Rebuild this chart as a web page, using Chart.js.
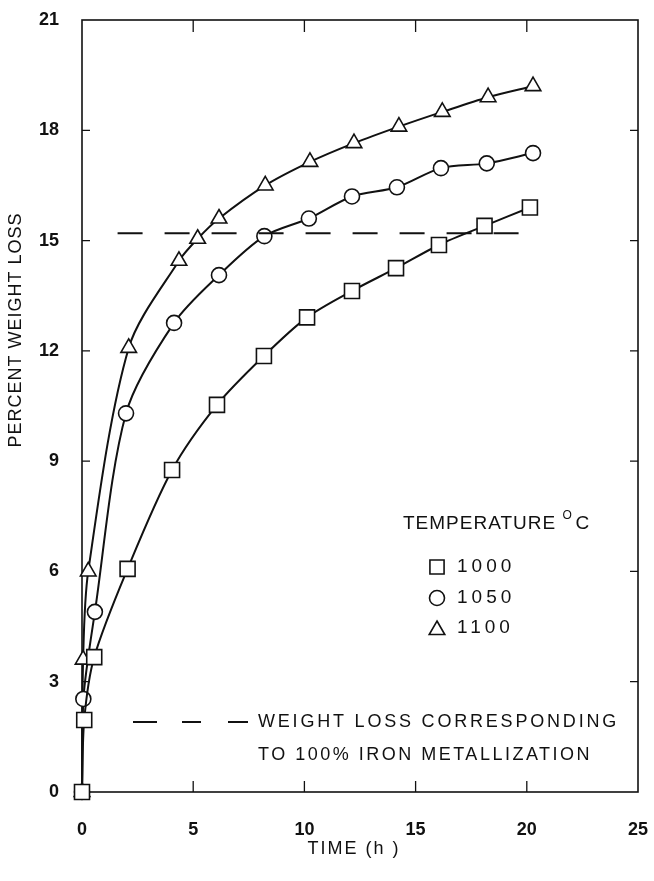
<!DOCTYPE html>
<html>
<head>
<meta charset="utf-8">
<script src="https://cdn.jsdelivr.net/npm/chart.js@4.4.1/dist/chart.umd.min.js"></script>
<style>
  html, body { margin: 0; padding: 0; background: #fff; }
  canvas { display: block; }
</style>
</head>
<body>
<canvas id="chart" width="654" height="881"></canvas>
<script>
// axis ranges / ticks
const xTicks = [0, 5, 10, 15, 20, 25];
const yTicks = [0, 3, 6, 9, 12, 15, 18, 21];

// 1000 C (squares)
const time1000 = [0, 0.1, 0.55, 2.05, 4.05, 6.07, 8.18, 10.12, 12.14, 14.12, 16.05, 18.1, 20.14];
const loss1000 = [0, 1.96, 3.67, 6.07, 8.76, 10.53, 11.86, 12.91, 13.63, 14.25, 14.88, 15.4, 15.9];

// 1050 C (circles)
const time1050 = [0, 0.06, 0.58, 1.98, 4.14, 6.16, 8.2, 10.2, 12.14, 14.16, 16.14, 18.2, 20.28];
const loss1050 = [0, 2.53, 4.9, 10.3, 12.76, 14.06, 15.12, 15.6, 16.2, 16.45, 16.97, 17.1, 17.38];

// 1100 C (triangles)
const time1100 = [0, 0.05, 0.28, 2.1, 4.36, 5.2, 6.16, 8.24, 10.25, 12.23, 14.25, 16.2, 18.26, 20.28];
const loss1100 = [0, 3.6, 6.0, 12.08, 14.45, 15.05, 15.6, 16.5, 17.14, 17.65, 18.1, 18.5, 18.9, 19.2];

// weight loss for 100% iron metallization
const refTime = [1.6, 20.1];
const refLoss = [15.2, 15.2];

const legendTitle = "TEMPERATURE";
const legendUnit = "C";
const legendLabels = ["1000", "1050", "1100"];
const legendStyles = ["rect", "circle", "triangle"];
const noteLines = ["WEIGHT LOSS CORRESPONDING", "TO 100% IRON METALLIZATION"];

const toPoints = (xs, ys) => xs.map((x, i) => ({ x: x, y: ys[i] }));

function series(xs, ys, style, radius) {
  return {
    data: toPoints(xs, ys),
    borderColor: "#111",
    borderWidth: 2,
    pointStyle: style,
    pointRadius: radius,
    pointBackgroundColor: "#fff",
    pointBorderColor: "#111",
    pointBorderWidth: 1.6,
    tension: 0.3,
    fill: false,
    clip: false
  };
}

const textFont = '"Liberation Sans", Arial, sans-serif';

// frame, inward ticks, titles, legend and note
const decor = {
  id: "decor",
  beforeDatasetsDraw(chart) {
    const { ctx, chartArea: a, scales } = chart;
    ctx.save();
    ctx.strokeStyle = "#111";
    ctx.lineWidth = 1.6;
    ctx.strokeRect(a.left, a.top, a.right - a.left, a.bottom - a.top);
    ctx.lineWidth = 1.3;
    ctx.beginPath();
    xTicks.slice(1, -1).forEach(v => {
      const px = scales.x.getPixelForValue(v);
      ctx.moveTo(px, a.bottom); ctx.lineTo(px, a.bottom - 11);
      ctx.moveTo(px, a.top); ctx.lineTo(px, a.top + 12);
    });
    yTicks.slice(1, -1).forEach(v => {
      const py = scales.y.getPixelForValue(v);
      ctx.moveTo(a.left, py); ctx.lineTo(a.left + 8, py);
      ctx.moveTo(a.right, py); ctx.lineTo(a.right - 8, py);
    });
    ctx.stroke();
    ctx.restore();
  },
  afterDraw(chart) {
    const { ctx } = chart;
    ctx.save();
    ctx.fillStyle = "#111";
    ctx.textBaseline = "middle";

    // y title
    ctx.save();
    ctx.translate(16, 330);
    ctx.rotate(-Math.PI / 2);
    ctx.font = "18px " + textFont;
    ctx.letterSpacing = "1px";
    ctx.textAlign = "center";
    ctx.fillText("PERCENT WEIGHT LOSS", 0, 0);
    ctx.restore();

    // x title
    ctx.font = "18px " + textFont;
    ctx.letterSpacing = "2px";
    ctx.textAlign = "center";
    ctx.fillText("TIME (h )", 354, 849);

    // legend
    ctx.textAlign = "left";
    ctx.font = "19px " + textFont;
    ctx.letterSpacing = "1px";
    ctx.fillText(legendTitle, 403, 524);
    let w = ctx.measureText(legendTitle + " ").width;
    ctx.font = "12px " + textFont;
    ctx.fillText("O", 403 + w, 516);
    ctx.font = "19px " + textFont;
    ctx.fillText(legendUnit, 403 + w + 13, 524);

    const rowY = [567, 598, 628];
    const radii = [10, 7.5, 9];
    legendLabels.forEach((lab, i) => {
      ctx.save();
      ctx.fillStyle = "#fff";
      ctx.strokeStyle = "#111";
      ctx.lineWidth = 1.6;
      Chart.helpers.drawPoint(ctx, { pointStyle: legendStyles[i], radius: radii[i], rotation: 0, borderWidth: 1.6 }, 437, rowY[i] + (i === 2 ? 2 : 0));
      ctx.restore();
      ctx.font = "19px " + textFont;
      ctx.letterSpacing = "4px";
      ctx.fillText(lab, 457, rowY[i]);
    });

    // note with dashed key
    ctx.strokeStyle = "#111";
    ctx.lineWidth = 2;
    ctx.beginPath();
    [[133, 157], [182, 201], [228, 248]].forEach(s => {
      ctx.moveTo(s[0], 722); ctx.lineTo(s[1], 722);
    });
    ctx.stroke();
    ctx.font = "18px " + textFont;
    ctx.letterSpacing = "2.8px";
    ctx.fillText(noteLines[0], 258, 722);
    ctx.letterSpacing = "2.5px";
    ctx.fillText(noteLines[1], 258, 755);
    ctx.restore();
  }
};

new Chart(document.getElementById("chart"), {
  type: "line",
  data: {
    datasets: [
      {
        data: toPoints(refTime, refLoss),
        borderColor: "#111",
        borderWidth: 2,
        borderDash: [25, 22],
        pointRadius: 0,
        fill: false
      },
      series(time1000, loss1000, "rect", 10.6),
      series(time1050, loss1050, "circle", 7.5),
      series(time1100, loss1100, "triangle", 9)
    ]
  },
  options: {
    responsive: false,
    animation: false,
    layout: { padding: { left: 0, right: 16, top: 20, bottom: 0 } },
    plugins: { legend: { display: false }, tooltip: { enabled: false } },
    scales: {
      x: {
        type: "linear",
        min: 0,
        max: 25,
        afterBuildTicks: s => { s.ticks = xTicks.map(v => ({ value: v })); },
        afterFit: s => { s.height = 89; s.paddingLeft = 0; s.paddingRight = 0; },
        grid: { display: false },
        border: { display: false },
        ticks: { color: "#111", padding: 19, font: { family: textFont, size: 18, weight: "bold" } }
      },
      y: {
        type: "linear",
        min: 0,
        max: 21,
        afterBuildTicks: s => { s.ticks = yTicks.map(v => ({ value: v })); },
        afterFit: s => { s.width = 82; s.paddingTop = 0; s.paddingBottom = 0; },
        grid: { display: false },
        border: { display: false },
        ticks: { color: "#111", padding: 15, font: { family: textFont, size: 18, weight: "bold" } }
      }
    }
  },
  plugins: [decor]
});
</script>
</body>
</html>
